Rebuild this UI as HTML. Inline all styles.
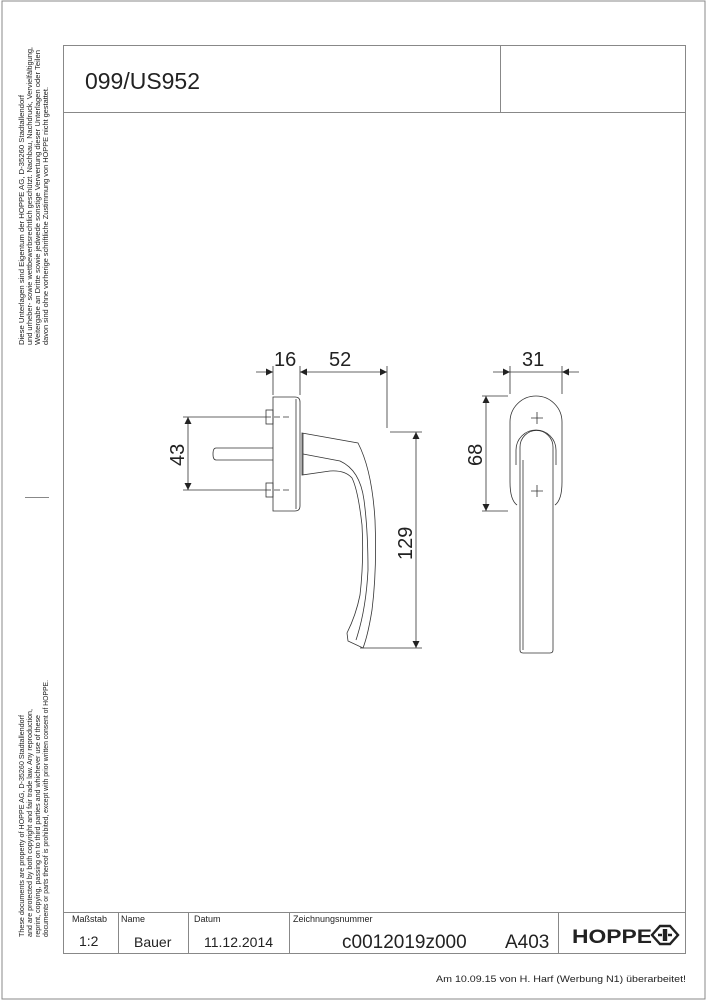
<!DOCTYPE html>
<html><head><meta charset="utf-8"><style>
body{margin:0;background:#fff;}
svg{display:block;font-family:"Liberation Sans",Arial,sans-serif;}
</style></head><body>
<svg width="707" height="1000" viewBox="0 0 707 1000" xmlns="http://www.w3.org/2000/svg">
<defs>
<marker id="a" viewBox="0 0 10 10" refX="10" refY="5" markerWidth="16" markerHeight="7" markerUnits="userSpaceOnUse" orient="auto"><path d="M0,0L10,5L0,10Z" fill="#222"/></marker>
</defs>
<g fill="none" stroke="#888" stroke-width="1">
<path d="M2,1H705V999H2Z"/>
<rect x="63.5" y="45.5" width="622" height="908"/>
<line x1="63" y1="112.5" x2="686" y2="112.5"/>
<line x1="500.5" y1="45" x2="500.5" y2="112"/>
<line x1="63" y1="912.5" x2="686" y2="912.5"/>
<line x1="118.5" y1="912" x2="118.5" y2="953"/>
<line x1="188.5" y1="912" x2="188.5" y2="953"/>
<line x1="289.5" y1="912" x2="289.5" y2="953"/>
<line x1="558.5" y1="912" x2="558.5" y2="953"/>
<line x1="25" y1="497.5" x2="49" y2="497.5"/>
</g>
<text x="85" y="89" font-size="23" fill="#222" textLength="115" lengthAdjust="spacingAndGlyphs">099/US952</text>
<g font-size="7.4" fill="#222">
<g transform="translate(24,345) rotate(-90)"><text x="0" y="0" textLength="250" lengthAdjust="spacingAndGlyphs">Diese Unterlagen sind Eigentum der  HOPPE AG, D-35260 Stadtallendorf</text></g>
<g transform="translate(32,345) rotate(-90)"><text x="0" y="0" textLength="298" lengthAdjust="spacingAndGlyphs">und urheber- sowie wettbewerbsrechtlich geschützt. Nachbau, Nachdruck, Vervielfältigung,</text></g>
<g transform="translate(40,345) rotate(-90)"><text x="0" y="0" textLength="295" lengthAdjust="spacingAndGlyphs">Weitergabe an Dritte sowie jedwede sonstige Verwertung dieser Unterlagen oder Teilen</text></g>
<g transform="translate(48,345) rotate(-90)"><text x="0" y="0" textLength="258" lengthAdjust="spacingAndGlyphs">davon sind ohne vorherige schriftliche Zustimmung von HOPPE nicht gestattet.</text></g>
<g transform="translate(24,937) rotate(-90)"><text x="0" y="0" textLength="222" lengthAdjust="spacingAndGlyphs">These documents are property of HOPPE AG, D-35260 Stadtallendorf</text></g>
<g transform="translate(32,937) rotate(-90)"><text x="0" y="0" textLength="228" lengthAdjust="spacingAndGlyphs">and are protected by both copyright and fair trade law. Any reproduction,</text></g>
<g transform="translate(40,937) rotate(-90)"><text x="0" y="0" textLength="222" lengthAdjust="spacingAndGlyphs">reprint, copying, passing on to third parties and whichever use of these</text></g>
<g transform="translate(48,937) rotate(-90)"><text x="0" y="0" textLength="257" lengthAdjust="spacingAndGlyphs">documents or parts thereof is prohibited,  except with prior written consent of HOPPE.</text></g>
</g>
<g fill="#222">
<text x="72" y="922" font-size="9">Maßstab</text>
<text x="121" y="922" font-size="9">Name</text>
<text x="194" y="922" font-size="9">Datum</text>
<text x="293" y="922" font-size="9">Zeichnungsnummer</text>
<text x="79" y="946" font-size="14">1:2</text>
<text x="134" y="947" font-size="14">Bauer</text>
<text x="204" y="947" font-size="14">11.12.2014</text>
<text x="342" y="948" font-size="19">c0012019z000</text>
<text x="505" y="948" font-size="19">A403</text>
<text x="572" y="943" font-size="19" font-weight="bold" textLength="80" lengthAdjust="spacingAndGlyphs">HOPPE</text>
<text x="436" y="982" font-size="9.5" textLength="250" lengthAdjust="spacingAndGlyphs">Am 10.09.15 von H. Harf (Werbung N1) überarbeitet!</text>
</g>
<path d="M660,926h10l8,9l-8,9h-10l-8,-9Z M664,929v12 M666,929v12 M658,935h4 M668,935h4" fill="none" stroke="#222" stroke-width="2.4"/>
<!-- left handle -->
<g fill="none" stroke="#333" stroke-width="0.8">
<line x1="273" y1="366" x2="273" y2="395"/><line x1="300" y1="366" x2="300" y2="395"/><line x1="387" y1="366" x2="387" y2="428"/>
<line x1="256" y1="372" x2="273" y2="372" marker-end="url(#a)"/>
<line x1="340" y1="372" x2="300" y2="372" marker-end="url(#a)"/>
<line x1="340" y1="372" x2="387" y2="372" marker-end="url(#a)"/>
<line x1="183" y1="417" x2="265" y2="417"/><line x1="183" y1="490" x2="265" y2="490"/>
<line x1="265" y1="417" x2="292" y2="417" stroke-dasharray="6,3"/><line x1="265" y1="490" x2="292" y2="490" stroke-dasharray="6,3"/>
<line x1="188" y1="453" x2="188" y2="417" marker-end="url(#a)"/><line x1="188" y1="453" x2="188" y2="490" marker-end="url(#a)"/>
<path d="M273,397H295Q300,397 300,402V506Q300,511 295,511H273Z"/>
<line x1="296" y1="399" x2="296" y2="509"/>
<rect x="266" y="410" width="7" height="14"/><rect x="266" y="483" width="7" height="14"/>
<path d="M273,448H216Q213,448 213,454Q213,460 216,460H273"/>
<path d="M302,433L358,443Q372,470 375,520Q377,570 372,610Q368,635 363,648L348,641L347,633Q356,615 360,595Q364,560 362,525Q358,490 352,478Q345,470 330,471L302,475Z"/>
<path d="M303,454L340,461Q360,470 364,500Q368,530 368,570Q366,610 356,640"/>
<line x1="303" y1="433" x2="303" y2="475"/>
<line x1="390" y1="432" x2="422" y2="432"/><line x1="360" y1="648" x2="422" y2="648"/>
<line x1="416" y1="540" x2="416" y2="432" marker-end="url(#a)"/><line x1="416" y1="540" x2="416" y2="648" marker-end="url(#a)"/>
</g>
<!-- right handle -->
<g fill="none" stroke="#333" stroke-width="0.8">
<line x1="510" y1="366" x2="510" y2="394"/><line x1="562" y1="366" x2="562" y2="394"/>
<line x1="493" y1="372" x2="510" y2="372" marker-end="url(#a)"/><line x1="510" y1="372" x2="562" y2="372"/>
<line x1="579" y1="372" x2="562" y2="372" marker-end="url(#a)"/>
<line x1="482" y1="396" x2="508" y2="396"/><line x1="482" y1="511" x2="508" y2="511"/>
<line x1="486" y1="453" x2="486" y2="396" marker-end="url(#a)"/><line x1="486" y1="453" x2="486" y2="511" marker-end="url(#a)"/>
<path d="M510,422A26,26 0 0 1 562,422V482Q562,500 555,505M517,505Q510,500 510,482V422"/>
<path d="M516,465V450A20,20 0 0 1 556,450V465"/>
<path d="M520,650V447A16,16 0 0 1 553,447V650Q553,653 550,653H523Q520,653 520,650Z"/>
<line x1="523" y1="460" x2="523" y2="650"/>
<path d="M531,418h12M537,412v12M531,491h12M537,485v12"/>
</g>
<g fill="#222" font-size="20">
<text x="274" y="366">16</text>
<text x="329" y="366">52</text>
<text x="522" y="366">31</text>
<text transform="translate(184,466) rotate(-90)">43</text>
<text transform="translate(482,466) rotate(-90)">68</text>
<text transform="translate(412,560) rotate(-90)">129</text>
</g>
</svg>
</body></html>
